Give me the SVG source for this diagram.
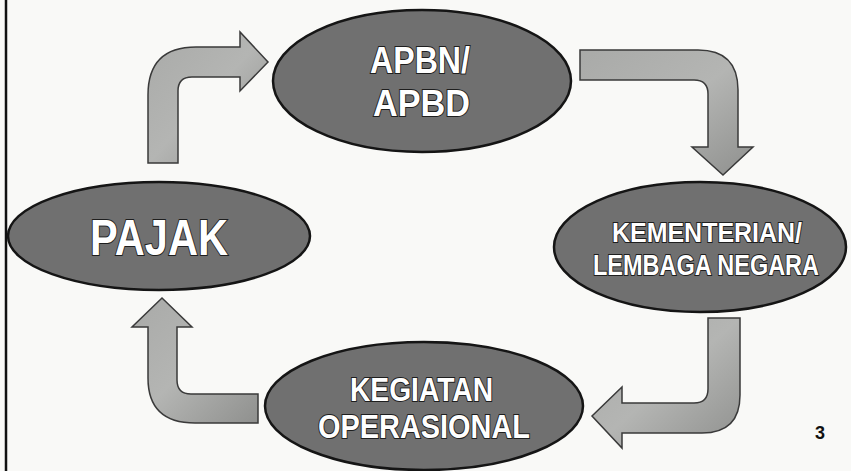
<svg xmlns="http://www.w3.org/2000/svg" width="851" height="471" viewBox="0 0 851 471">
  <style>
    .node ellipse { fill: #707070; stroke: #151515; stroke-width: 2.5; }
    .lbl { font-family: "Liberation Sans", Arial, sans-serif; font-weight: bold; fill: #ffffff; stroke: #1e1e1e; stroke-width: 2; paint-order: stroke; text-anchor: start; }
    .arrow { fill: url(#ag); stroke: #3a3a3a; stroke-width: 1.5; stroke-linejoin: miter; }
    .pg { font-family: "Liberation Sans", Arial, sans-serif; font-weight: bold; fill: #111; font-size: 18px; }
  </style>
  <defs>
    <linearGradient id="ag" x1="0" y1="0" x2="1" y2="1">
      <stop offset="0" stop-color="#a9aaa8"/>
      <stop offset="0.5" stop-color="#b4b5b3"/>
      <stop offset="1" stop-color="#8f908e"/>
    </linearGradient>
  </defs>
  <rect x="0" y="0" width="851" height="471" fill="#f9f9f7"/>
  <line x1="6" y1="0" x2="6" y2="471" stroke="#111" stroke-width="2.5"/>

  <g id="connectors">
    <path class="arrow" d="M148,163 L148,95 Q148,47 196,47 L240,47 L240,32 L268,62 L240,91 L240,77 L192,77 Q178,77 178,91 L178,163 Z"/>
    <path class="arrow" d="M580,50 L698,50 Q738,50 738,90 L738,147 L753,147 L723,175 L692,147 L708,147 L708,94 Q708,80 694,80 L580,80 Z"/>
    <path class="arrow" d="M708,318 L740,318 L740,395 Q740,433 702,433 L622,433 L622,448 L592,416 L622,387 L622,403 L694,403 Q708,403 708,389 Z"/>
    <path class="arrow" d="M258,394 L191,394 Q177,394 177,380 L177,327 L192,327 L162,298 L132,327 L148,327 L148,378 Q148,423 195,423 L258,423 Z"/>
  </g>

  <g id="apbn" class="node">
    <ellipse cx="422" cy="81" rx="149" ry="71"/>
    <text class="lbl" x="370" y="73" font-size="36" textLength="100" lengthAdjust="spacingAndGlyphs">APBN/</text>
    <text class="lbl" x="373" y="116" font-size="36" textLength="97" lengthAdjust="spacingAndGlyphs">APBD</text>
  </g>

  <g id="kementerian" class="node">
    <ellipse cx="700" cy="247" rx="146" ry="65"/>
    <text class="lbl" x="612" y="242" font-size="28" textLength="190" lengthAdjust="spacingAndGlyphs">KEMENTERIAN/</text>
    <text class="lbl" x="593" y="275" font-size="29" textLength="226" lengthAdjust="spacingAndGlyphs">LEMBAGA NEGARA</text>
  </g>

  <g id="kegiatan" class="node">
    <ellipse cx="424" cy="406" rx="159" ry="64"/>
    <text class="lbl" x="350" y="401" font-size="33" textLength="143" lengthAdjust="spacingAndGlyphs">KEGIATAN</text>
    <text class="lbl" x="318" y="438" font-size="33" textLength="212" lengthAdjust="spacingAndGlyphs">OPERASIONAL</text>
  </g>

  <g id="pajak" class="node">
    <ellipse cx="159" cy="236" rx="151" ry="54"/>
    <text class="lbl" x="90" y="255" font-size="50" textLength="138" lengthAdjust="spacingAndGlyphs">PAJAK</text>
  </g>

  <text class="pg" x="815" y="439">3</text>
</svg>
